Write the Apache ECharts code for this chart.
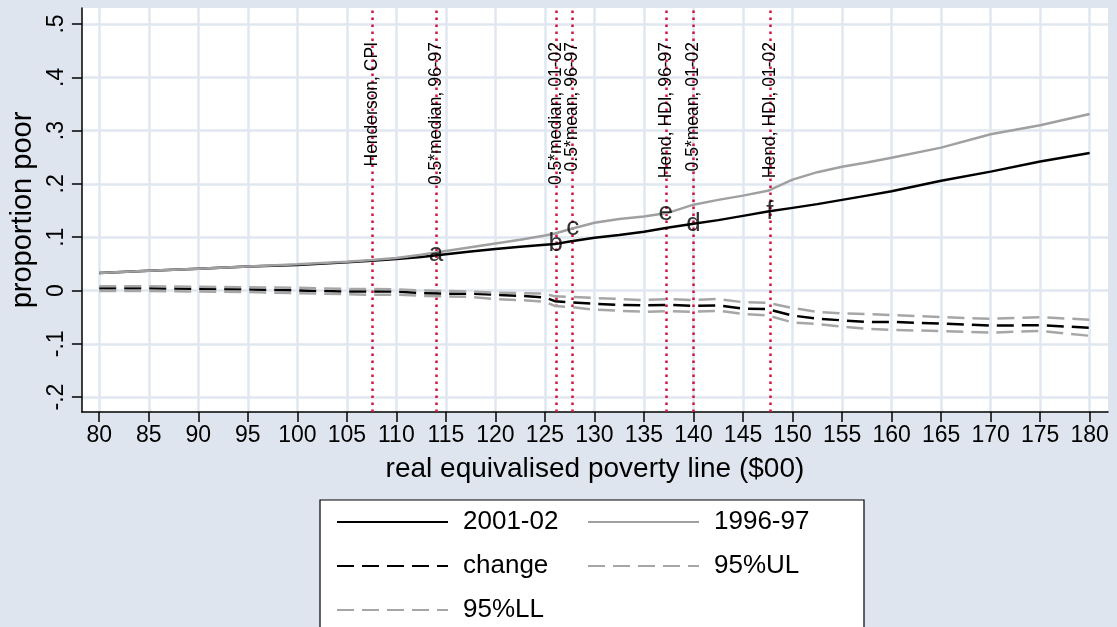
<!DOCTYPE html>
<html>
<head>
<meta charset="utf-8">
<script src="https://cdn.jsdelivr.net/npm/echarts@6/dist/echarts.min.js"></script>
<style>
html,body{margin:0;padding:0;background:#dfe5ef;}
#chart{width:1117px;height:627px;}
</style>
</head>
<body>
<div id="chart"></div>
<script>
// ---- data ----
const xValues = [80, 85, 90, 95, 100, 105, 107.5, 110, 112.5, 115, 117.5, 120, 122.5, 125, 126, 127.5, 130, 132.5, 135, 137.5, 140, 142.5, 145, 147.5, 150, 152.5, 155, 157.5, 160, 165, 170, 175, 180];
const pov2001 = [0.033, 0.037, 0.041, 0.045, 0.048, 0.053, 0.056, 0.059, 0.063, 0.068, 0.073, 0.078, 0.082, 0.086, 0.087, 0.092, 0.099, 0.104, 0.110, 0.118, 0.125, 0.132, 0.140, 0.148, 0.155, 0.162, 0.170, 0.178, 0.186, 0.206, 0.223, 0.242, 0.258];
const pov1996 = [0.033, 0.037, 0.041, 0.045, 0.049, 0.054, 0.057, 0.061, 0.067, 0.074, 0.081, 0.088, 0.095, 0.103, 0.107, 0.115, 0.127, 0.134, 0.139, 0.146, 0.161, 0.170, 0.178, 0.187, 0.208, 0.222, 0.232, 0.240, 0.249, 0.268, 0.293, 0.310, 0.331];
const change = [0.004, 0.004, 0.003, 0.002, 0.000, -0.002, -0.002, -0.002, -0.005, -0.006, -0.006, -0.008, -0.010, -0.013, -0.020, -0.022, -0.025, -0.027, -0.028, -0.027, -0.029, -0.028, -0.034, -0.035, -0.047, -0.053, -0.056, -0.059, -0.059, -0.062, -0.066, -0.065, -0.070];
const ul95 = [0.008, 0.008, 0.007, 0.006, 0.005, 0.003, 0.003, 0.002, 0.000, -0.001, -0.002, -0.004, -0.005, -0.006, -0.011, -0.012, -0.014, -0.016, -0.018, -0.016, -0.018, -0.016, -0.022, -0.023, -0.033, -0.040, -0.043, -0.044, -0.046, -0.050, -0.053, -0.050, -0.055];
const ll95 = [-0.001, -0.001, -0.002, -0.003, -0.005, -0.007, -0.008, -0.008, -0.010, -0.011, -0.012, -0.016, -0.018, -0.021, -0.029, -0.031, -0.036, -0.038, -0.040, -0.039, -0.040, -0.038, -0.044, -0.047, -0.060, -0.063, -0.068, -0.072, -0.074, -0.076, -0.079, -0.076, -0.085];

const refLineX = [107.6, 114.0, 126.1, 127.8, 137.2, 140.0, 147.7];
const refLineLabels = ['Henderson, CPI', '0.5*median, 96-97', '0.5*median, 01-02', '0.5*mean, 96-97', 'Hend, HDI, 96-97', '0.5*mean, 01-02', 'Hend, HDI, 01-02'];

const markerLetters = ['a', 'b', 'c', 'e', 'd', 'f'];
const markerX = [114.0, 126.1, 127.8, 137.2, 140.0, 147.7];
const markerY = [0.068, 0.087, 0.117, 0.145, 0.125, 0.148];

const xTicks = [80, 85, 90, 95, 100, 105, 110, 115, 120, 125, 130, 135, 140, 145, 150, 155, 160, 165, 170, 175, 180];
const yTicks = [-0.2, -0.1, 0, 0.1, 0.2, 0.3, 0.4, 0.5];
const yTickLabels = ['-.2', '-.1', '0', '.1', '.2', '.3', '.4', '.5'];

const seriesNames = ['2001-02', '1996-97', 'change', '95%UL', '95%LL'];

// ---- chart ----
const FONT = 'Liberation Sans, Arial, Helvetica, sans-serif';
const zip = (xs, ys) => xs.map((x, i) => [x, ys[i]]);
const dash = [17, 8];

const chart = echarts.init(document.getElementById('chart'));
chart.setOption({
  animation: false,
  backgroundColor: '#dfe5ef',
  textStyle: { fontFamily: FONT },
  grid: { left: 79, right: 9, top: 8, bottom: 215, show: true, backgroundColor: '#ffffff', borderWidth: 0 },
  xAxis: {
    type: 'value', min: 78.25, max: 181.85,
    name: 'real equivalised poverty line ($00)', nameLocation: 'middle', nameGap: 43,
    nameTextStyle: { fontSize: 28, color: '#000', fontFamily: FONT },
    axisLine: { show: true, onZero: false, lineStyle: { color: '#000', width: 1.5 } },
    axisTick: { show: true, length: 10, customValues: xTicks, lineStyle: { color: '#000', width: 1.5 } },
    axisLabel: { customValues: xTicks, fontSize: 23, color: '#000', margin: 12, fontFamily: FONT },
    splitLine: { show: true, lineStyle: { color: '#e1e7f1', width: 2.5 } }
  },
  yAxis: {
    type: 'value', min: -0.228, max: 0.53,
    name: 'proportion poor', nameLocation: 'middle', nameGap: 38,
    nameTextStyle: { fontSize: 29, color: '#000', fontFamily: FONT },
    axisLine: { show: true, onZero: false, lineStyle: { color: '#000', width: 1.5 } },
    axisTick: { show: true, length: 10, customValues: yTicks, lineStyle: { color: '#000', width: 1.5 } },
    axisLabel: {
      customValues: yTicks, rotate: 90, fontSize: 23, color: '#000', margin: 14, fontFamily: FONT,
      formatter: v => { const i = yTicks.findIndex(t => Math.abs(t - v) < 1e-6); return i >= 0 ? yTickLabels[i] : ''; }
    },
    splitLine: { show: true, lineStyle: { color: '#e1e7f1', width: 2.5 } }
  },
  legend: {
    data: seriesNames,
    left: 320, top: 500, width: 520,
    orient: 'horizontal',
    backgroundColor: '#ffffff', borderColor: '#000', borderWidth: 1.2, borderRadius: 0,
    padding: [7, 40, 12, 16],
    itemWidth: 111, itemHeight: 20, itemGap: 14,
    itemStyle: { opacity: 0, borderWidth: 0 },
    textStyle: { fontSize: 26, color: '#000', fontFamily: FONT, width: 110, lineHeight: 30, padding: [0, 0, 0, 10] }
  },
  series: [
    { name: seriesNames[0], type: 'line', data: zip(xValues, pov2001), symbol: 'none', lineStyle: { color: '#000', width: 2.5 }, itemStyle: { color: '#000' }, z: 3 },
    { name: seriesNames[1], type: 'line', data: zip(xValues, pov1996), symbol: 'none', lineStyle: { color: '#a0a0a0', width: 2.5 }, itemStyle: { color: '#a0a0a0' }, z: 3 },
    { name: seriesNames[2], type: 'line', data: zip(xValues, change), symbol: 'none', lineStyle: { color: '#000', width: 2.5, type: dash }, itemStyle: { color: '#000' }, z: 3 },
    { name: seriesNames[3], type: 'line', data: zip(xValues, ul95), symbol: 'none', lineStyle: { color: '#a6a6a6', width: 2.5, type: dash }, itemStyle: { color: '#a6a6a6' }, z: 3 },
    { name: seriesNames[4], type: 'line', data: zip(xValues, ll95), symbol: 'none', lineStyle: { color: '#a6a6a6', width: 2.5, type: dash }, itemStyle: { color: '#a6a6a6' }, z: 3 },
    {
      name: 'markers', type: 'scatter', z: 4,
      data: markerX.map((x, i) => ({ value: [x, markerY[i]], name: markerLetters[i] })),
      symbolSize: 0,
      label: { show: true, position: 'inside', formatter: '{b}', fontSize: 26, color: '#000', fontFamily: FONT },
      markLine: {
        silent: true, symbol: ['none', 'none'], z: 2,
        lineStyle: { color: '#d4123f', width: 2.5, type: [2.5, 4.5] },
        label: { show: true, position: 'insideEnd', distance: 34, fontSize: 17.5, color: '#000', fontFamily: FONT, formatter: '{b}' },
        data: refLineX.map((x, i) => ({ xAxis: x, name: refLineLabels[i] }))
      }
    }
  ]
});
</script>
</body>
</html>
